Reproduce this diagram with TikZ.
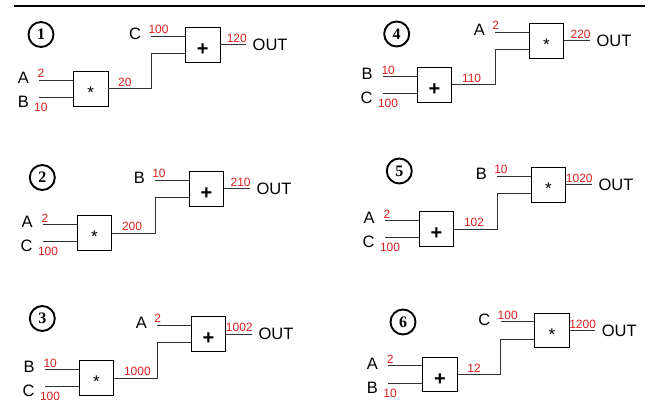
\documentclass[tikz,border=0pt]{standalone}
\usepackage{fontspec}
\setmainfont{Liberation Sans}
\newfontfamily\numserif{Liberation Serif}
\definecolor{valred}{RGB}{220,30,30}
\definecolor{wire}{RGB}{50,50,50}
\newcommand\gpsymplus{+}
\newcommand\gpsymtimes{*}
\tikzset{
  gate/.style={draw=black, line width=0.8pt, minimum size=34.5pt, inner sep=0pt, fill=white},
  wireline/.style={draw=wire, line width=0.9pt},
  letter/.style={font=\fontsize{16.5}{18}\selectfont, inner sep=0pt, text=black},
  val/.style={font=\fontsize{12}{13}\selectfont, inner sep=0pt, text=valred},
  outlbl/.style={font=\fontsize{16.5}{18}\selectfont, inner sep=0pt, anchor=base west},
  numcirc/.style={circle, draw=black, line width=1.9pt, minimum size=25pt, inner sep=0pt, font=\numserif\bfseries\fontsize{16}{16}\selectfont},
  plus sym/.style={font=\fontsize{20}{20}\selectfont\bfseries, inner sep=0pt, yshift=-5pt},
  times sym/.style={font=\fontsize{17}{17}\selectfont, inner sep=0pt, yshift=-4pt},
}
% stage 1: id, X, Y, circle x, circle y, number, L1, n1, L2
\newcommand\gatepanel[9]{%
  \def\gpid{#1}\def\gpX{#2}\def\gpY{#3}\def\gpcx{#4}\def\gpcy{#5}\def\gpnum{#6}%
  \def\gpLa{#7}\def\gpna{#8}\def\gpLb{#9}\gatepanelB}
% stage 2: n2, op low, mid, L3, n3, op up, out
\newcommand\gatepanelB[7]{%
  \node[numcirc] (\gpid-num) at (\gpcx,\gpcy) {\gpnum};
  \begin{scope}[shift={(\gpX,\gpY)}]
    \node[gate] (\gpid-lo) at (17.25,17.25) {};
    \node[#2 sym] (\gpid-losym) at (17.25,17.25) {\csname gpsym#2\endcsname};
    \node[gate] (\gpid-up) at (129.25,-26.75) {};
    \node[#6 sym] (\gpid-upsym) at (129.25,-26.75) {\csname gpsym#6\endcsname};
    % lower inputs
    \coordinate (\gpid-ia) at (-34.5,8.6);
    \coordinate (\gpid-ib) at (-34.5,25.9);
    \draw[wireline] (\gpid-ia) -- (\gpid-ia -| \gpid-lo.west);
    \draw[wireline] (\gpid-ib) -- (\gpid-ib -| \gpid-lo.west);
    \node[letter, anchor=east] (\gpid-La) at (-44.5,6.6) {\gpLa};
    \node[letter, anchor=east] (\gpid-Lb) at (-44.5,30.4) {\gpLb};
    \node[val, anchor=base west] (\gpid-na) at (-36,6.4) {\gpna};
    \node[val, anchor=north west] (\gpid-nb) at (-39.5,31.4) {#1};
    % middle connection
    \coordinate (\gpid-r) at (77.8,-18.1);
    \draw[wireline] (\gpid-lo.east) -| (\gpid-r) -- (\gpid-r -| \gpid-up.west);
    \node[val, anchor=base west] (\gpid-mid) at (44.5,14.7) {#3};
    % upper input
    \coordinate (\gpid-ic) at (77.8,-35.4);
    \draw[wireline] (\gpid-ic) -- (\gpid-ic -| \gpid-up.west);
    \node[letter, anchor=east] (\gpid-Lc) at (67.8,-37.4) {#4};
    \node[val, anchor=base west] (\gpid-nc) at (74.8,-38) {#5};
    % output
    \coordinate (\gpid-o) at (172.5,-26.75);
    \draw[wireline] (\gpid-up.east) -- (\gpid-o);
    \node[val, anchor=base east] (\gpid-nout) at (173.5,-29.25) {#7};
    \node[outlbl] (\gpid-OUT) at (179,-20.75) {OUT};
  \end{scope}
}
\begin{document}
\begin{tikzpicture}[x=1pt,y=-1pt]
  \useasboundingbox (0,0) rectangle (653,406);
  \coordinate (rl) at (14,6.3);
  \coordinate (rr) at (645,6.3);
  \draw[line width=2pt] (rl) -- (rr);
  \gatepanel{p1}{73.5}{71.5}{41}{34.5}{1}{A}{2}{B}{10}{times}{20}{C}{100}{plus}{120}
  \gatepanel{p2}{77.3}{215.7}{42.3}{177.5}{2}{A}{2}{C}{100}{times}{200}{B}{10}{plus}{210}
  \gatepanel{p3}{79.3}{360.7}{42.3}{318.5}{3}{B}{10}{C}{100}{times}{1000}{A}{2}{plus}{1002}
  \gatepanel{p4}{417.3}{67.7}{396.7}{34}{4}{B}{10}{C}{100}{plus}{110}{A}{2}{times}{220}
  \gatepanel{p5}{419.3}{211.7}{399.3}{171}{5}{A}{2}{C}{100}{plus}{102}{B}{10}{times}{1020}
  \gatepanel{p6}{422.7}{357.3}{403}{322}{6}{A}{2}{B}{10}{plus}{12}{C}{100}{times}{1200}
\end{tikzpicture}
\end{document}
